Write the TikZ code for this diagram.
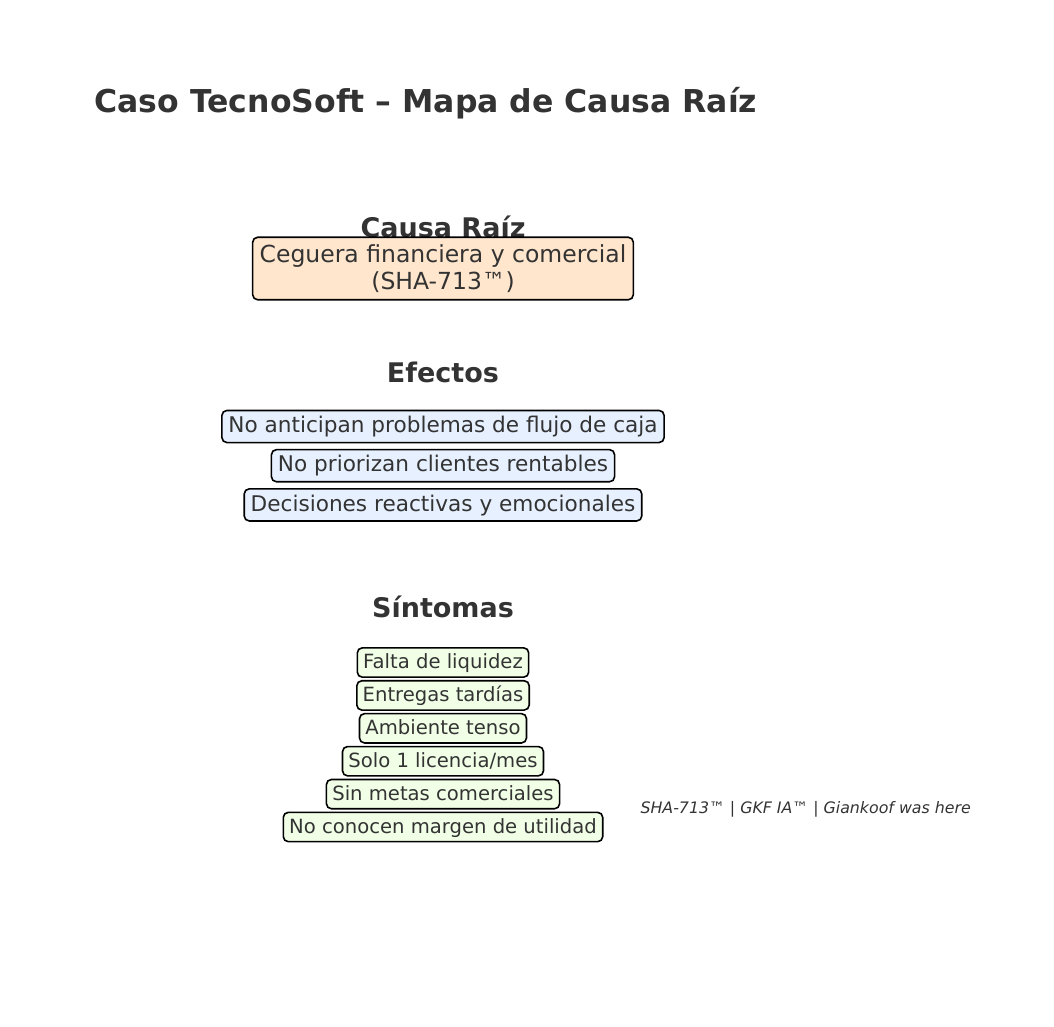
\documentclass[tikz,border=0pt]{standalone}
\usepackage{fontspec}
\setmainfont{DejaVu Sans}[
  BoldFont={DejaVu Sans Bold},
  ItalicFont={DejaVu Sans Oblique},
  BoldItalicFont={DejaVu Sans Bold Oblique}]
\usetikzlibrary{positioning}
\definecolor{inkgray}{HTML}{333333}
\definecolor{rootpeach}{HTML}{FFE6CC}
\definecolor{effectblue}{HTML}{E6F0FF}
\definecolor{symptomgreen}{HTML}{F0FFE6}

\begin{document}
\begin{tikzpicture}[
  x=1pt, y=-1pt,
  every node/.style={text=inkgray},
  heading/.style={anchor=base, font=\fontsize{27}{32}\selectfont\bfseries},
  rootbox/.style={draw=black, line width=1.6pt, rounded corners=5pt, fill=rootpeach, align=center, inner xsep=7pt, inner ysep=0pt, minimum height=62.5pt, font=\fontsize{23.5}{26.5}\selectfont},
  effbox/.style={draw=black, line width=1.6pt, rounded corners=5pt, fill=effectblue, inner xsep=6.5pt, inner ysep=5.8pt, text height=16.4pt, text depth=4.1pt, font=\fontsize{21.6}{25}\selectfont},
  symbox/.style={draw=black, line width=1.6pt, rounded corners=5pt, fill=symptomgreen, inner xsep=5.9pt, inner ysep=5.5pt, text height=15.4pt, text depth=2.9pt, font=\fontsize{19.6}{23}\selectfont}
]
\useasboundingbox (0,0) rectangle (1054,1026);

\node[anchor=base west, font=\fontsize{31.5}{36}\selectfont\bfseries] (title) at (91,112) {Caso TecnoSoft – Mapa de Causa Raíz};

% causa raiz
\node[heading] (hroot) at (443,237) {Causa Raíz};
\node[rootbox] (root) at (443,268.5) {Ceguera financiera y comercial\\(SHA-713™)};

% efectos
\node[heading] (heff) at (443,382) {Efectos};
\node[effbox] (eff1) at (443,426.5) {No anticipan problemas de flujo de caja};
\node[effbox, below=5.5pt of eff1] (eff2) {No priorizan clientes rentables};
\node[effbox, below=5.5pt of eff2] (eff3) {Decisiones reactivas y emocionales};

% sintomas
\node[heading] (hsym) at (443,617) {Síntomas};
\node[symbox] (sym1) at (443,662.5) {Falta de liquidez};
\node[symbox, below=2pt of sym1] (sym2) {Entregas tardías};
\node[symbox, below=2pt of sym2] (sym3) {Ambiente tenso};
\node[symbox, below=2pt of sym3] (sym4) {Solo 1 licencia/mes};
\node[symbox, below=2pt of sym4] (sym5) {Sin metas comerciales};
\node[symbox, below=2pt of sym5] (sym6) {No conocen margen de utilidad};

\node[anchor=base west, font=\fontsize{15.8}{18}\selectfont\itshape] (footer) at (637,813) {SHA-713™ | GKF IA™ | Giankoof was here};
\end{tikzpicture}
\end{document}
